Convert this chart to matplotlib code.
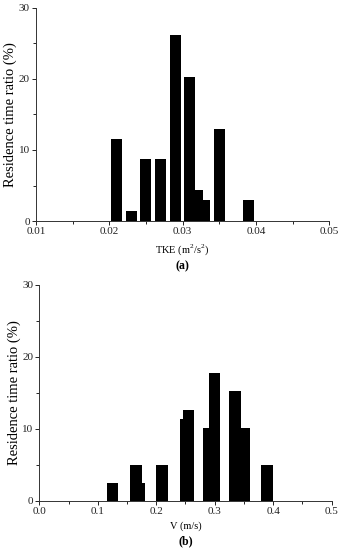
import matplotlib
matplotlib.use('Agg')
import matplotlib.pyplot as plt
from matplotlib.ticker import MultipleLocator

plt.rcParams['font.family'] = 'Liberation Serif'
plt.rcParams['mathtext.fontset'] = 'custom'
plt.rcParams['mathtext.rm'] = 'Liberation Serif'

# (a) turbulent kinetic energy
tke_centers = [0.021, 0.023, 0.025, 0.027, 0.029, 0.031, 0.032, 0.033, 0.035, 0.039]
tke_ratio = [11.6, 1.4, 8.7, 8.7, 26.1, 20.3, 4.4, 2.9, 13.0, 2.9]
tke_width = 0.0015

# (b) velocity
v_centers = [0.125, 0.165, 0.17, 0.21, 0.25, 0.255, 0.29, 0.30, 0.335, 0.35, 0.39]
v_ratio = [2.5, 5.0, 2.5, 5.0, 11.4, 12.6, 10.1, 17.7, 15.2, 10.1, 5.0]
v_width = 0.02

fig = plt.figure(figsize=(3.39, 5.5), dpi=100)
ax1 = fig.add_axes([0.106, 0.598, 0.865, 0.388])
ax2 = fig.add_axes([0.116, 0.090, 0.862, 0.392])


def style(ax, xmaj, xmin):
    ax.spines['top'].set_visible(False)
    ax.spines['right'].set_visible(False)
    for s in ['left', 'bottom']:
        ax.spines[s].set_linewidth(0.7)
        ax.spines[s].set_color('#333333')
    ax.set_ylim(0, 30)
    ax.yaxis.set_major_locator(MultipleLocator(10))
    ax.yaxis.set_minor_locator(MultipleLocator(5))
    ax.xaxis.set_major_locator(MultipleLocator(xmaj))
    ax.xaxis.set_minor_locator(MultipleLocator(xmin))
    ax.tick_params(which='major', direction='out', length=3, width=0.6,
                   labelsize=8, pad=1.5, labelcolor='#222222')
    ax.tick_params(which='minor', direction='out', length=2, width=0.6)
    ax.set_ylabel('Residence time ratio (%)', fontsize=10.5, labelpad=1)


ax1.bar(tke_centers, tke_ratio, width=tke_width, color='black')
ax1.set_xlim(0.01, 0.05)
style(ax1, 0.01, 0.005)
ax1.xaxis.set_major_formatter(plt.FuncFormatter(lambda v, p: f'{v:.2f}'))
ax1.set_xlabel('TKE (m$^2$/s$^2$)', fontsize=7.5, labelpad=4)
fig.text(0.5 * (0.106 + 0.971), 1 - 266 / 550, '(a)', ha='center', va='center',
         fontsize=8.5, fontweight='bold')

ax2.bar(v_centers, v_ratio, width=v_width, color='black')
ax2.set_xlim(0.0, 0.5)
style(ax2, 0.1, 0.05)
ax2.xaxis.set_major_formatter(plt.FuncFormatter(lambda v, p: f'{v:.1f}'))
ax2.set_xlabel('V (m/s)', fontsize=7.5, labelpad=4)
fig.text(0.5 * (0.116 + 0.978), 1 - 541.5 / 550, '(b)', ha='center', va='center',
         fontsize=8.5, fontweight='bold')

fig.savefig('out.png', dpi=100)
